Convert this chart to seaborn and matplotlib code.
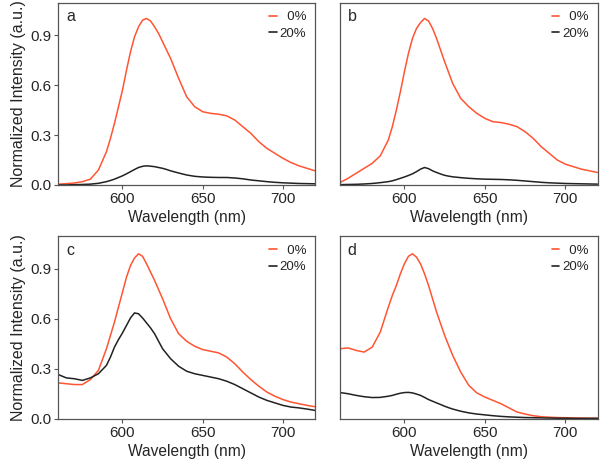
import numpy as np
import pandas as pd
import matplotlib
matplotlib.use("Agg")
import matplotlib.pyplot as plt
import seaborn as sns

sns.set_theme(style="white")
plt.rcParams['font.family'] = ['Liberation Sans', 'DejaVu Sans']

# ---------------- data ----------------
wl = [560, 565, 570, 575, 580, 585, 590, 592.5, 595, 597.5, 600, 602.5, 605, 607.5,
      610, 612.5, 615, 617.5, 620, 622.5, 625, 627.5, 630,
      635, 640, 645, 650, 655, 660, 665, 670, 675, 680, 685, 690, 695, 700, 705,
      710, 715, 720]

a_0 = [0.005, 0.008, 0.012, 0.02, 0.035, 0.09, 0.20, 0.28, 0.37, 0.47, 0.57, 0.69,
       0.80, 0.89, 0.95, 0.99, 1.0, 0.985, 0.95, 0.91, 0.86, 0.81, 0.76,
       0.64, 0.53, 0.47, 0.44, 0.43, 0.425, 0.415, 0.39, 0.35,
       0.31, 0.26, 0.22, 0.19, 0.16, 0.135, 0.115, 0.10, 0.085]
a_20 = [0.0, 0.0, 0.002, 0.003, 0.005, 0.01, 0.02, 0.027, 0.035, 0.045, 0.055, 0.067,
        0.08, 0.093, 0.105, 0.112, 0.115, 0.113, 0.11, 0.105, 0.10, 0.093, 0.085,
        0.072, 0.06, 0.052, 0.048, 0.046, 0.045, 0.045, 0.042,
        0.037, 0.03, 0.025, 0.02, 0.016, 0.013, 0.011, 0.009, 0.008, 0.007]

b_0 = [0.015, 0.04, 0.07, 0.10, 0.13, 0.175, 0.27, 0.35, 0.45, 0.56, 0.68, 0.79,
       0.88, 0.94, 0.975, 1.0, 0.985, 0.94, 0.88, 0.81, 0.74, 0.675, 0.61,
       0.52, 0.47, 0.43, 0.40, 0.38, 0.375, 0.365, 0.35, 0.32,
       0.28, 0.23, 0.19, 0.15, 0.125, 0.11, 0.095, 0.085, 0.075]
b_20 = [0.002, 0.003, 0.004, 0.006, 0.009, 0.014, 0.02, 0.025, 0.032, 0.04, 0.048,
        0.057, 0.067, 0.08, 0.095, 0.105, 0.098, 0.085, 0.075, 0.066, 0.058, 0.053,
        0.049, 0.044, 0.04, 0.037, 0.035, 0.034, 0.033, 0.031,
        0.028, 0.024, 0.02, 0.016, 0.013, 0.011, 0.009, 0.008, 0.007, 0.006, 0.005]

c_0 = [0.215, 0.21, 0.205, 0.205, 0.235, 0.29, 0.42, 0.50, 0.58, 0.67, 0.76, 0.85,
       0.92, 0.965, 0.99, 0.975, 0.93, 0.88, 0.83, 0.775, 0.72, 0.66, 0.60,
       0.51, 0.465, 0.435, 0.415, 0.405, 0.395, 0.37, 0.33,
       0.28, 0.235, 0.195, 0.16, 0.135, 0.115, 0.10, 0.09, 0.08, 0.072]
c_20 = [0.265, 0.245, 0.24, 0.23, 0.245, 0.27, 0.32, 0.37, 0.43, 0.475, 0.515, 0.56,
        0.605, 0.635, 0.63, 0.605, 0.575, 0.545, 0.51, 0.465, 0.42, 0.39, 0.36,
        0.315, 0.285, 0.27, 0.26, 0.25, 0.24, 0.225, 0.205, 0.18,
        0.155, 0.13, 0.11, 0.095, 0.08, 0.07, 0.065, 0.058, 0.05]

d_0 = [0.42, 0.425, 0.41, 0.40, 0.43, 0.52, 0.67, 0.74, 0.80, 0.87, 0.93, 0.975,
       0.99, 0.97, 0.93, 0.87, 0.80, 0.72, 0.64, 0.57, 0.50, 0.44, 0.38,
       0.28, 0.20, 0.155, 0.13, 0.11, 0.09, 0.065, 0.04, 0.028, 0.018,
       0.012, 0.009, 0.007, 0.006, 0.005, 0.004, 0.003, 0.003]
d_20 = [0.157, 0.15, 0.14, 0.132, 0.127, 0.128, 0.135, 0.14, 0.147, 0.153, 0.157,
        0.158, 0.155, 0.148, 0.14, 0.128, 0.115, 0.105, 0.095, 0.085, 0.075, 0.066,
        0.058, 0.045, 0.035, 0.028, 0.023, 0.018, 0.014, 0.011,
        0.009, 0.007, 0.006, 0.005, 0.004, 0.003, 0.003, 0.002, 0.002, 0.002, 0.002]

panel_labels = ["a", "b", "c", "d"]
series_labels = ["  0%", "20%"]
x_ticks = [600, 650, 700]
y_ticks = [0.0, 0.3, 0.6, 0.9]

ORANGE = "#FF5533"
BLACK = "#222222"
SPINE = "#555555"

fig = plt.figure(figsize=(6.0, 4.67), dpi=100)
positions = [
    [0.0972, 0.6039, 0.4278, 0.3904],
    [0.5667, 0.6039, 0.4292, 0.3904],
    [0.0972, 0.1034, 0.4278, 0.3906],
    [0.5667, 0.1034, 0.4292, 0.3906],
]
data = [(a_0, a_20), (b_0, b_20), (c_0, c_20), (d_0, d_20)]

for i, (pos, (s0, s20)) in enumerate(zip(positions, data)):
    ax = fig.add_axes(pos)
    df = pd.DataFrame({
        "wl": wl * 2,
        "val": list(s0) + list(s20),
        "series": [series_labels[0]] * len(wl) + [series_labels[1]] * len(wl),
    })
    sns.lineplot(data=df, x="wl", y="val", hue="series",
                 palette={series_labels[0]: ORANGE, series_labels[1]: BLACK},
                 linewidth=1.1, ax=ax, legend=True)
    ax.set_xlim(560, 720)
    ax.set_ylim(0, 1.095)
    ax.set_xticks(x_ticks)
    ax.set_yticks(y_ticks)
    ax.set_xticklabels([str(t) for t in x_ticks], fontsize=11)
    if i % 2 == 0:
        ax.set_yticklabels([f"{t:.1f}" for t in y_ticks], fontsize=11)
        ax.set_ylabel("Normalized Intensity (a.u.)", fontsize=11.5, labelpad=3)
        ax.tick_params(axis="y", length=3, width=0.8, color=SPINE, pad=2,
                       direction="out", left=True)
    else:
        ax.set_yticklabels([])
        ax.set_ylabel("")
        ax.tick_params(axis="y", length=0, left=False)
    ax.tick_params(axis="x", length=3, width=0.8, color=SPINE, pad=2,
                   direction="out", bottom=True)
    ax.set_xlabel("Wavelength (nm)", fontsize=11.2, labelpad=3)
    for sp in ax.spines.values():
        sp.set_color(SPINE)
        sp.set_linewidth(0.9)
    ax.text(0.03, 0.965, panel_labels[i], transform=ax.transAxes,
            fontsize=11.5, va="top", ha="left")
    leg = ax.legend(loc="upper right", frameon=False, fontsize=9.5,
                    handlelength=0.55, handletextpad=0.25, labelspacing=0.3,
                    borderaxespad=0.45, borderpad=0.2)
    for line in leg.get_lines():
        line.set_linewidth(1.2)

fig.savefig("out.png", dpi=100)
